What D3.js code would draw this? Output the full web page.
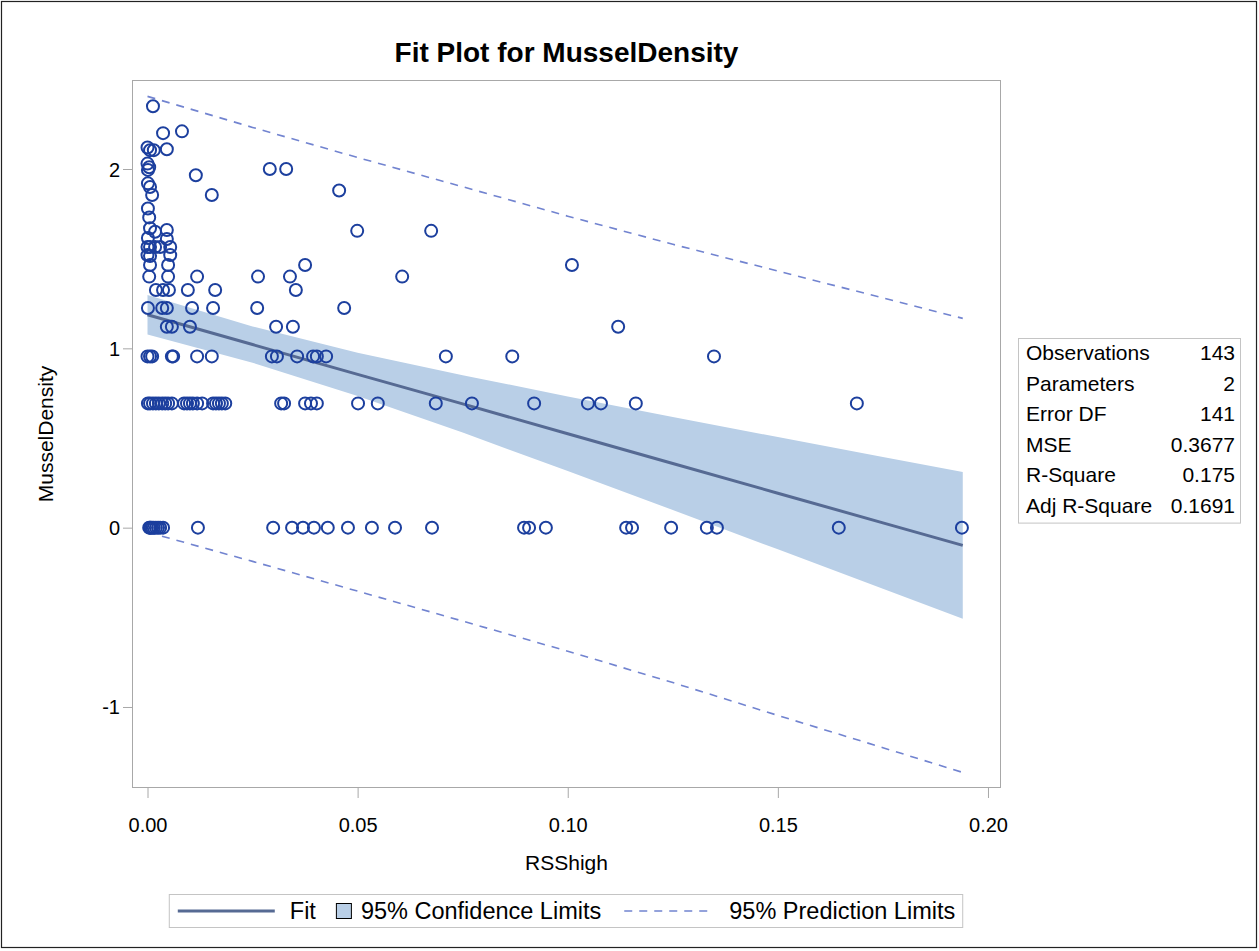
<!DOCTYPE html>
<html>
<head>
<meta charset="utf-8">
<script src="https://cdn.jsdelivr.net/npm/d3@7"></script>
<style>
  body { margin: 0; background: #fff; }
  text { font-family: "Liberation Sans", Arial, sans-serif; fill: #000; }
</style>
</head>
<body>
<script>
// observations (RSShigh, MusselDensity), row by row
var rssHigh = [
  0.0013,
  0.0037, 0.0082,
  0, 0.0006, 0.0015, 0.0046,
  0, 0.0004, 0.0001,
  0.0291, 0.0330,
  0.0115,
  0.0001, 0.0006,
  0.0456,
  0.0011, 0.0153,
  0.0001,
  0.0004,
  0.0006, 0.0018, 0.0046,
  0.0499, 0.0675,
  0.0001, 0.0046,
  0, 0.0006, 0.0018, 0.0030, 0.0054,
  0, 0.0006, 0.0054,
  0.0006, 0.0049, 0.0375, 0.1010,
  0.0004, 0.0049, 0.0118, 0.0263, 0.0339, 0.0606,
  0.0020, 0.0037, 0.0051, 0.0096, 0.0161, 0.0353,
  0.0001, 0.0035, 0.0046, 0.0106, 0.0156, 0.0261, 0.0468,
  0.0046, 0.0058, 0.0101, 0.0306, 0.0346, 0.1120,
  0, 0.0006, 0.0011, 0.0058, 0.0061, 0.0118, 0.0153, 0.0296, 0.0308, 0.0356,
  0.0394, 0.0403, 0.0425, 0.0710, 0.0868, 0.1348,
  0.0001, 0.0006, 0.0013, 0.0020, 0.0027, 0.0035, 0.0042, 0.0049, 0.0058, 0.0087,
  0.0094, 0.0101, 0.0108, 0.0118, 0.0130, 0.0156, 0.0163, 0.0170, 0.0177, 0.0185,
  0.0318, 0.0325, 0.0375, 0.0389, 0.0403, 0.0501, 0.0548, 0.0686, 0.0772, 0.0920,
  0.1048, 0.1079, 0.1162, 0.1688,
  0.0004, 0.0006, 0.0008, 0.0011, 0.0015, 0.0020, 0.0025, 0.0030, 0.0037, 0.0120,
  0.0299, 0.0344, 0.0370, 0.0396, 0.0429, 0.0477, 0.0534, 0.0589, 0.0677, 0.0896,
  0.0908, 0.0948, 0.1139, 0.1153, 0.1246, 0.1331, 0.1355, 0.1645, 0.1938
];
var musselDensity = [
  2.35,
  2.20, 2.21,
  2.12, 2.105, 2.105, 2.11,
  2.03, 2.01, 1.995,
  2.0, 2.0,
  1.965,
  1.92, 1.90,
  1.88,
  1.855, 1.855,
  1.78,
  1.73,
  1.67, 1.65, 1.66,
  1.655, 1.655,
  1.615, 1.61,
  1.565, 1.565, 1.565, 1.565, 1.565,
  1.52, 1.515, 1.52,
  1.465, 1.465, 1.465, 1.465,
  1.40, 1.40, 1.40, 1.40, 1.40, 1.40,
  1.325, 1.325, 1.325, 1.325, 1.325, 1.325,
  1.225, 1.225, 1.225, 1.225, 1.225, 1.225, 1.225,
  1.12, 1.12, 1.12, 1.12, 1.12, 1.12,
  0.955, 0.955, 0.955, 0.955, 0.955, 0.955, 0.955, 0.955, 0.955, 0.955,
  0.955, 0.955, 0.955, 0.955, 0.955, 0.955,
  0.693, 0.693, 0.693, 0.693, 0.693, 0.693, 0.693, 0.693, 0.693, 0.693,
  0.693, 0.693, 0.693, 0.693, 0.693, 0.693, 0.693, 0.693, 0.693, 0.693,
  0.693, 0.693, 0.693, 0.693, 0.693, 0.693, 0.693, 0.693, 0.693, 0.693,
  0.693, 0.693, 0.693, 0.693,
  0, 0, 0, 0, 0, 0, 0, 0, 0, 0,
  0, 0, 0, 0, 0, 0, 0, 0, 0, 0,
  0, 0, 0, 0, 0, 0, 0, 0, 0
];

// fit, 95% confidence and 95% prediction limits, read at a few RSShigh stations
var fitX     = [0, 0.025, 0.05, 0.075, 0.10, 0.125, 0.15, 0.175, 0.194];
var fitY     = [1.187, 1.021, 0.855, 0.690, 0.524, 0.358, 0.192, 0.027, -0.099];
var lowerCLM = [1.077, 0.920, 0.734, 0.530, 0.316, 0.099, -0.121, -0.340, -0.508];
var upperCLM = [1.297, 1.122, 0.976, 0.850, 0.732, 0.617, 0.505, 0.394, 0.310];
var lowerCL  = [-0.025, -0.188, -0.354, -0.521, -0.689, -0.864, -1.047, -1.227, -1.365];
var upperCL  = [2.405, 2.232, 2.064, 1.901, 1.737, 1.580, 1.431, 1.281, 1.167];

var statLabels = ["Observations", "Parameters", "Error DF", "MSE", "R-Square", "Adj R-Square"];
var statValues = ["143", "2", "141", "0.3677", "0.175", "0.1691"];

var xTicks = [0, 0.05, 0.10, 0.15, 0.20];
var yTicks = [-1, 0, 1, 2];

var W = 1259, H = 951;
var plot = { left: 132, right: 1001, top: 80, bottom: 788 };

var markerColor = "#1c3f9e",
    fitColor = "#566a93",
    clmColor = "#b9cfe7",
    clColor = "#7284d0",
    frameColor = "#a8a8a8";

var svg = d3.select("body").append("svg")
    .attr("width", W)
    .attr("height", H);

// outer border
svg.append("rect")
    .attr("x", 1.5).attr("y", 1.5)
    .attr("width", W - 4).attr("height", H - 5)
    .attr("fill", "#fff")
    .attr("stroke", "#222")
    .attr("stroke-width", 1.2);

var x = d3.scaleLinear().domain([-0.00369, 0.20310]).range([plot.left, plot.right]);
var y = d3.scaleLinear().domain([-1.4517, 2.4963]).range([plot.bottom, plot.top]);

svg.append("defs").append("clipPath")
    .attr("id", "clip")
  .append("rect")
    .attr("x", plot.left).attr("y", plot.top)
    .attr("width", plot.right - plot.left)
    .attr("height", plot.bottom - plot.top);

var stations = fitX.map(function(d, i) { return i; });
var inner = svg.append("g").attr("clip-path", "url(#clip)");

// confidence band
inner.append("path")
    .datum(stations)
    .attr("fill", clmColor)
    .attr("d", d3.area()
        .x(function(i) { return x(fitX[i]); })
        .y0(function(i) { return y(lowerCLM[i]); })
        .y1(function(i) { return y(upperCLM[i]); }));

// prediction limits
[lowerCL, upperCL].forEach(function(arr) {
  inner.append("path")
      .datum(stations)
      .attr("fill", "none")
      .attr("stroke", clColor)
      .attr("stroke-width", 1.6)
      .attr("stroke-dasharray", "8,7")
      .attr("d", d3.line()
          .x(function(i) { return x(fitX[i]); })
          .y(function(i) { return y(arr[i]); }));
});

// fit line
inner.append("path")
    .datum(stations)
    .attr("fill", "none")
    .attr("stroke", fitColor)
    .attr("stroke-width", 3)
    .attr("d", d3.line()
        .x(function(i) { return x(fitX[i]); })
        .y(function(i) { return y(fitY[i]); }));

// observations
inner.append("g")
  .selectAll("circle")
  .data(rssHigh)
  .enter().append("circle")
    .attr("cx", function(d) { return x(d); })
    .attr("cy", function(d, i) { return y(musselDensity[i]); })
    .attr("r", 6)
    .attr("fill", "none")
    .attr("stroke", markerColor)
    .attr("stroke-width", 2);

// frame
svg.append("rect")
    .attr("x", plot.left + 0.5).attr("y", plot.top + 0.5)
    .attr("width", plot.right - plot.left - 1)
    .attr("height", plot.bottom - plot.top - 1)
    .attr("fill", "none")
    .attr("stroke", frameColor);

// axes
var xAxis = svg.append("g")
    .attr("transform", "translate(0," + plot.bottom + ")")
    .call(d3.axisBottom(x).tickValues(xTicks).tickFormat(d3.format(".2f")).tickSize(10).tickPadding(20));
var yAxis = svg.append("g")
    .attr("transform", "translate(" + plot.left + ",0)")
    .call(d3.axisLeft(y).tickValues(yTicks).tickFormat(function(d) { return String(d); }).tickSize(9).tickPadding(3));

[xAxis, yAxis].forEach(function(a) {
  a.select(".domain").remove();
  a.selectAll(".tick line").attr("stroke", frameColor);
  a.selectAll(".tick text")
      .attr("font-family", "Liberation Sans, Arial, sans-serif")
      .attr("font-size", 20)
      .attr("fill", "#000");
});
yAxis.selectAll(".tick text").attr("dy", "0.35em");

// titles
svg.append("text")
    .attr("x", (plot.left + plot.right) / 2)
    .attr("y", 62)
    .attr("text-anchor", "middle")
    .attr("font-size", 28)
    .attr("font-weight", "bold")
    .text("Fit Plot for MusselDensity");

svg.append("text")
    .attr("x", (plot.left + plot.right) / 2)
    .attr("y", 870)
    .attr("text-anchor", "middle")
    .attr("font-size", 21)
    .text("RSShigh");

svg.append("text")
    .attr("transform", "translate(53," + (plot.top + plot.bottom) / 2 + ") rotate(-90)")
    .attr("text-anchor", "middle")
    .attr("font-size", 21)
    .text("MusselDensity");

// fit statistics table
var tbl = { left: 1018, right: 1240, top: 338, row: 30.6 };
svg.append("rect")
    .attr("x", tbl.left + 0.5).attr("y", tbl.top + 0.5)
    .attr("width", tbl.right - tbl.left)
    .attr("height", tbl.row * statLabels.length + 1)
    .attr("fill", "#fff")
    .attr("stroke", "#c4c4c4");

svg.append("g").selectAll("text")
  .data(statLabels)
  .enter().append("text")
    .attr("x", tbl.left + 8)
    .attr("y", function(d, i) { return tbl.top + tbl.row * i + 22; })
    .attr("font-size", 21)
    .text(function(d) { return d; });

svg.append("g").selectAll("text")
  .data(statValues)
  .enter().append("text")
    .attr("x", tbl.right - 5)
    .attr("y", function(d, i) { return tbl.top + tbl.row * i + 22; })
    .attr("text-anchor", "end")
    .attr("font-size", 21)
    .text(function(d) { return d; });

// legend
var leg = svg.append("g");
var legY = 911, legFont = 23.5;
var cx = 0;

leg.append("line")
    .attr("x1", 0).attr("x2", 97)
    .attr("stroke", fitColor).attr("stroke-width", 3);
cx = 97 + 15;
var t1 = leg.append("text").attr("x", cx).attr("font-size", legFont).text("Fit");
cx += t1.node().getComputedTextLength() + 20;
leg.append("rect")
    .attr("x", cx + 0.5).attr("y", -7.5)
    .attr("width", 15).attr("height", 15)
    .attr("fill", clmColor).attr("stroke", "#000").attr("stroke-width", 1);
cx += 15 + 10;
var t2 = leg.append("text").attr("x", cx).attr("font-size", legFont).text("95% Confidence Limits");
cx += t2.node().getComputedTextLength() + 23;
leg.append("line")
    .attr("x1", cx).attr("x2", cx + 87)
    .attr("stroke", clColor).attr("stroke-width", 1.6)
    .attr("stroke-dasharray", "8,7");
cx += 87 + 18;
var t3 = leg.append("text").attr("x", cx).attr("font-size", legFont).text("95% Prediction Limits");
cx += t3.node().getComputedTextLength();

leg.selectAll("text").attr("dy", "0.35em");
var legW = cx + 16;
var legX = (plot.left + plot.right) / 2 - legW / 2;
leg.insert("rect", ":first-child")
    .attr("x", -8.5).attr("y", -16.5)
    .attr("width", legW).attr("height", 33)
    .attr("fill", "#fff")
    .attr("stroke", "#c4c4c4");
leg.attr("transform", "translate(" + (legX + 8) + "," + legY + ")");
</script>
</body>
</html>
